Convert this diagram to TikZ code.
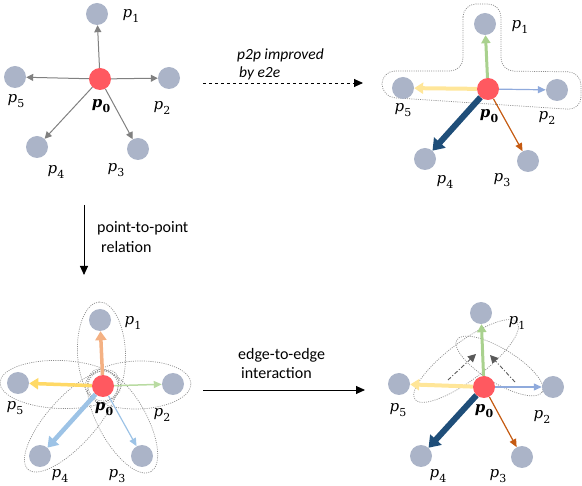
\documentclass[tikz,border=0pt]{standalone}
\usepackage{fontspec}
\newfontfamily\carl{Carlito}
\newfontfamily\dvs{DejaVu Serif}
\usetikzlibrary{arrows.meta,calc,backgrounds}
\newcommand\plab[1]{{\dvs\itshape p}\kern0.3pt\raisebox{-0.28em}{\dvs\fontsize{11}{11}\selectfont #1}}
\newcommand\pzero{{\dvs\bfseries\itshape p}\kern0.3pt\raisebox{-0.28em}{\dvs\bfseries\fontsize{11}{11}\selectfont 0}}
\definecolor{ptgray}{HTML}{ABB4C8}
\definecolor{ctrred}{HTML}{FF5960}
\definecolor{arrgray}{HTML}{808080}
\definecolor{lgreen}{HTML}{A9D18E}
\definecolor{llgreen}{HTML}{B9DBA2}
\definecolor{lyellow}{HTML}{FFE699}
\definecolor{myellow}{HTML}{FFD966}
\definecolor{lblue}{HTML}{8FAADC}
\definecolor{sblue}{HTML}{9DC3E6}
\definecolor{dblue}{HTML}{1F4E79}
\definecolor{brown}{HTML}{C55A11}
\definecolor{salmon}{HTML}{F4B183}
\definecolor{dotgray}{HTML}{8C8C8C}
\definecolor{dashgray}{HTML}{595959}
\tikzset{
  ptnode/.style={circle, fill=ptgray, minimum size=22pt, inner sep=0pt},
  ctrnode/.style={circle, fill=ctrred, minimum size=22pt, inner sep=0pt},
  lab/.style={font=\fontsize{15}{16}\selectfont, inner sep=0pt},
  txt/.style={font=\carl\fontsize{16}{16}\selectfont, inner sep=0pt, anchor=west},
  itxt/.style={font=\carl\itshape\fontsize{15.5}{16}\selectfont, inner sep=0pt, anchor=west},
  grayarr/.style={draw=arrgray, line width=1pt, -{Triangle[length=7pt,width=7pt]}},
  thinarr/.style={line width=1.2pt, -{Triangle[length=8pt,width=7pt]}},
  thickarr/.style={line width=3.5pt, -{Triangle[length=9pt,width=11pt]}},
  vthickarr/.style={line width=6pt, -{Triangle[length=11pt,width=15pt]}},
  trans/.style={draw=black, line width=0.9pt, -{Triangle[length=9pt,width=8pt]}},
  blob/.style={draw=dotgray, dash pattern=on 1pt off 1.2pt, line width=0.7pt},
  dasharr/.style={draw=dashgray, line width=0.9pt, dash pattern=on 4pt off 2pt on 1pt off 2pt, -{Triangle[length=8pt,width=8pt]}}
}
\begin{document}
\begin{tikzpicture}[x=1pt,y=-1pt]
\useasboundingbox (0,0) rectangle (582,486);

% ---------- panel 1 ----------
\node[ctrnode] (a0) at (100,79) {};
\node[ptnode] (a1) at (97,14) {};
\node[ptnode] (a2) at (169,78) {};
\node[ptnode] (a3) at (138,149) {};
\node[ptnode] (a4) at (37,147) {};
\node[ptnode] (a5) at (15,77) {};
\foreach \i in {1,...,5} \draw[grayarr] (a0) -- (a\i);
\node[lab] (la0) at (101,106) {\pzero};
\node[lab] (la1) at (131,16) {\plab{1}};
\node[lab] (la2) at (162,108) {\plab{2}};
\node[lab] (la3) at (116,170) {\plab{3}};
\node[lab] (la4) at (56,172) {\plab{4}};
\node[lab] (la5) at (16,101) {\plab{5}};

% ---------- panel 2 ----------
\draw[blob, rounded corners=13pt] (463,30) -- (463,4) -- (501,4) -- (501,71) -- (581,72) -- (581,110) -- (382,97) -- (382,71) -- (463,71) -- cycle;
\node[ctrnode] (b0) at (488,89) {};
\node[ptnode] (b1) at (485,24) {};
\node[ptnode] (b2) at (557,90) {};
\node[ptnode] (b3) at (528,161) {};
\node[ptnode] (b4) at (425,159) {};
\node[ptnode] (b5) at (403,88) {};
\draw[thickarr, draw=lgreen, -{Triangle[length=8pt,width=9pt]}, line width=3pt] (b0) -- (b1);
\draw[thickarr, draw=lyellow, line width=4pt] (b0) -- (b5);
\draw[thinarr, draw=lblue] (b0) -- (b2);
\draw[vthickarr, draw=dblue] (b0) -- (b4);
\draw[thinarr, draw=brown] (b0) -- (b3);
\node[lab] (lb0) at (489,116) {\pzero};
\node[lab] (lb1) at (520,27) {\plab{1}};
\node[lab] (lb2) at (547,118) {\plab{2}};
\node[lab] (lb3) at (502,180) {\plab{3}};
\node[lab] (lb4) at (445,182) {\plab{4}};
\node[lab] (lb5) at (403,110) {\plab{5}};

% ---------- panel 3 ----------
\node[ctrnode] (c0) at (103,386) {};
\node[ptnode] (c1) at (100,320) {};
\node[ptnode] (c2) at (173,384) {};
\node[ptnode] (c3) at (142,456) {};
\node[ptnode] (c4) at (40,456) {};
\node[ptnode] (c5) at (18,383) {};
\begin{pgfonlayer}{background}
\foreach \i in {1,...,5}{
  \draw[blob] let \p1=($(c\i)-(c0)$), \n1={atan2(\y1,\x1)}, \n2={veclen(\x1,\y1)} in
    [rotate around={\n1:($(c0)!0.5!(c\i)$)}] ($(c0)!0.5!(c\i)$) ellipse [x radius={\n2/2+18}, y radius=24pt];
}
\draw[blob] (c0) circle [radius=15pt];
\end{pgfonlayer}
\draw[thickarr, draw=salmon] (c0) -- (c1);
\draw[thinarr, draw=llgreen, line width=1.5pt] (c0) -- (c2);
\draw[thinarr, draw=sblue] (c0) -- (c3);
\draw[thickarr, draw=sblue, line width=4.5pt, -{Triangle[length=10pt,width=13pt]}] (c0) -- (c4);
\draw[thickarr, draw=myellow] (c0) -- (c5);
\node[lab] (lc0) at (104,409) {\pzero};
\node[lab] (lc1) at (133,323) {\plab{1}};
\node[lab] (lc2) at (162,415) {\plab{2}};
\node[lab] (lc3) at (117,476) {\plab{3}};
\node[lab] (lc4) at (60,476) {\plab{4}};
\node[lab] (lc5) at (15,408) {\plab{5}};

% ---------- panel 4 ----------
\node[ctrnode] (d0) at (484,387) {};
\node[ptnode] (d1) at (481,313) {};
\node[ptnode] (d2) at (553,387) {};
\node[ptnode] (d3) at (522,457) {};
\node[ptnode] (d4) at (421,456) {};
\node[ptnode] (d5) at (399,384) {};
\begin{pgfonlayer}{background}
\coordinate (ea) at (466,361);
\coordinate (eb) at (499.5,366);
\draw[blob, rotate around={37:(ea)}] (ea) ellipse [x radius=64pt, y radius=19pt];
\draw[blob, rotate around={-31.5:(eb)}] (eb) ellipse [x radius=50pt, y radius=17pt];
\end{pgfonlayer}
\coordinate (g1s) at (448,380);
\coordinate (g1e) at (476,354);
\coordinate (g2s) at (515,382);
\coordinate (g2e) at (490,355);
\draw[dasharr] (g1s) -- (g1e);
\draw[dasharr] (g2s) -- (g2e);
\draw[thickarr, draw=lgreen, -{Triangle[length=8pt,width=9pt]}, line width=3pt] (d0) -- (d1);
\draw[thickarr, draw=lyellow, line width=4pt] (d0) -- (d5);
\draw[thinarr, draw=lblue] (d0) -- (d2);
\draw[vthickarr, draw=dblue] (d0) -- (d4);
\draw[thinarr, draw=brown] (d0) -- (d3);
\node[lab] (ld0) at (484,411) {\pzero};
\node[lab] (ld1) at (517,323) {\plab{1}};
\node[lab] (ld2) at (542,417) {\plab{2}};
\node[lab] (ld3) at (498,476) {\plab{3}};
\node[lab] (ld4) at (438,476) {\plab{4}};
\node[lab] (ld5) at (398,410) {\plab{5}};

% ---------- transitions ----------
\coordinate (t1s) at (203,83);
\coordinate (t1e) at (363,83);
\draw[trans, dashed] (t1s) -- (t1e);
\node[itxt] (t1a) at (237,55) {p2p improved};
\node[itxt] (t1b) at (239,73) {by e2e};

\coordinate (t2s) at (84,205);
\coordinate (t2e) at (84,275);
\draw[trans] (t2s) -- (t2e);
\node[txt] (t2a) at (97,228) {point-to-point};
\node[txt] (t2b) at (101,247) {relation};

\coordinate (t3s) at (203,390);
\coordinate (t3e) at (365,390);
\draw[trans] (t3s) -- (t3e);
\node[txt] (t3a) at (238,355) {edge-to-edge};
\node[txt] (t3b) at (241,373) {interaction};
\end{tikzpicture}
\end{document}
